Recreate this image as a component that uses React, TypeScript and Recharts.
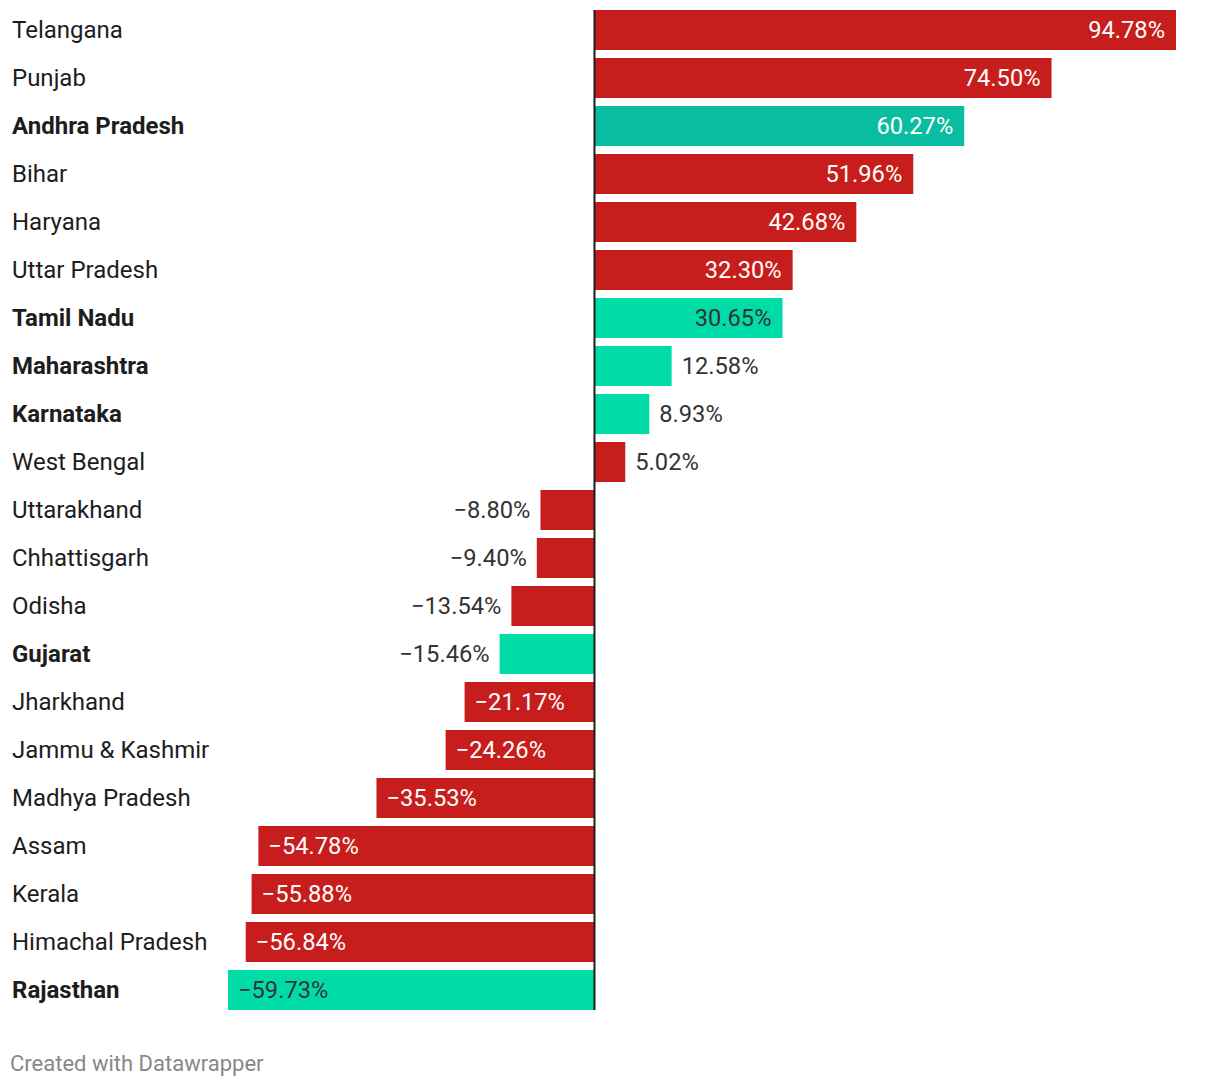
import React from "react";
import { BarChart, Bar, XAxis, YAxis, Cell, LabelList, ReferenceLine } from "recharts";

const states = [
  "Telangana", "Punjab", "Andhra Pradesh", "Bihar", "Haryana", "Uttar Pradesh",
  "Tamil Nadu", "Maharashtra", "Karnataka", "West Bengal", "Uttarakhand",
  "Chhattisgarh", "Odisha", "Gujarat", "Jharkhand", "Jammu & Kashmir",
  "Madhya Pradesh", "Assam", "Kerala", "Himachal Pradesh", "Rajasthan",
];
const values = [
  94.78, 74.5, 60.27, 51.96, 42.68, 32.3, 30.65, 12.58, 8.93, 5.02, -8.8,
  -9.4, -13.54, -15.46, -21.17, -24.26, -35.53, -54.78, -55.88, -56.84, -59.73,
];
const highlighted = ["Andhra Pradesh", "Tamil Nadu", "Maharashtra", "Karnataka", "Gujarat", "Rajasthan"];
const darkHighlighted = ["Andhra Pradesh"];

const RED = "#c71e1d";
const TEAL = "#00dca7";
const TEAL_DARK = "#0bbda0";
const TEXT = "#333333";
const FONT = "Roboto, sans-serif";
const VAL_SIZE = 23.7;
const CAT_SIZE = 24;

const data = states.map((s, i) => ({ state: s, value: values[i] }));

const colorFor = (s: string) =>
  darkHighlighted.includes(s) ? TEAL_DARK : highlighted.includes(s) ? TEAL : RED;

const fmt = (v: number) => (v < 0 ? "\u2212" : "") + Math.abs(v).toFixed(2) + "%";

const CategoryLabel = (props: any) => {
  const { y, height, index } = props;
  const s = states[index];
  const bold = highlighted.includes(s);
  return (
    <text x={12} y={y + height / 2} dy="0.35em" textAnchor="start" fontFamily={FONT} fontSize={CAT_SIZE}
      fontWeight={bold ? 700 : 400} fill="#1d1d1d">
      {s}
    </text>
  );
};

const ValueLabel = (props: any) => {
  const { x, y, width, height, value, index } = props;
  const s = states[index];
  const col = colorFor(s);
  const v = Number(value);
  const inside = Math.abs(v) > 20;
  const cy = y + height / 2;
  let tx: number;
  let anchor: "start" | "end";
  let fill = TEXT;
  const left = Math.min(x, x + width);
  const right = Math.max(x, x + width);
  if (v >= 0) {
    if (inside) { tx = right - 11; anchor = "end"; fill = col === TEAL ? TEXT : "#ffffff"; }
    else { tx = right + 10; anchor = "start"; }
  } else {
    if (inside) { tx = left + 10; anchor = "start"; fill = col === TEAL ? TEXT : "#ffffff"; }
    else { tx = left - 10; anchor = "end"; }
  }
  return (
    <text x={tx} y={cy} dy="0.35em" textAnchor={anchor} fontFamily={FONT} fontSize={VAL_SIZE} fill={fill}>
      {fmt(v)}
    </text>
  );
};

const ZeroLine = (props: any) => {
  const { x1, y1, x2, y2 } = props;
  const top = Math.min(y1, y2);
  const bottom = Math.max(y1, y2);
  return <line x1={x1} x2={x2} y1={top + 4} y2={bottom - 4} stroke="#1d1d1d" strokeWidth={2} />;
};

export default function App() {
  return (
    <div style={{ position: "absolute", left: 0, top: 0, width: 1220, height: 1086, background: "#fff" }}>
      <BarChart
        width={1220}
        height={1086}
        data={data}
        layout="vertical"
        margin={{ top: 6, right: 44, bottom: 72, left: 228 }}
        barCategoryGap={8}
      >
        <XAxis type="number" dataKey="value" domain={[-59.73, 94.78]} hide />
        <YAxis type="category" dataKey="state" hide />
        <Bar dataKey="value" barSize={40} isAnimationActive={false}>
          {data.map((d) => (
            <Cell key={d.state} fill={colorFor(d.state)} />
          ))}
          <LabelList dataKey="value" content={<ValueLabel />} />
          <LabelList dataKey="state" content={<CategoryLabel />} />
        </Bar>
        <ReferenceLine x={0} shape={<ZeroLine />} ifOverflow="extendDomain" />
      </BarChart>
      <div style={{ position: "absolute", left: 10, top: 1051, fontFamily: FONT, fontSize: 22, color: "#888888" }}>
        Created with Datawrapper
      </div>
    </div>
  );
}
